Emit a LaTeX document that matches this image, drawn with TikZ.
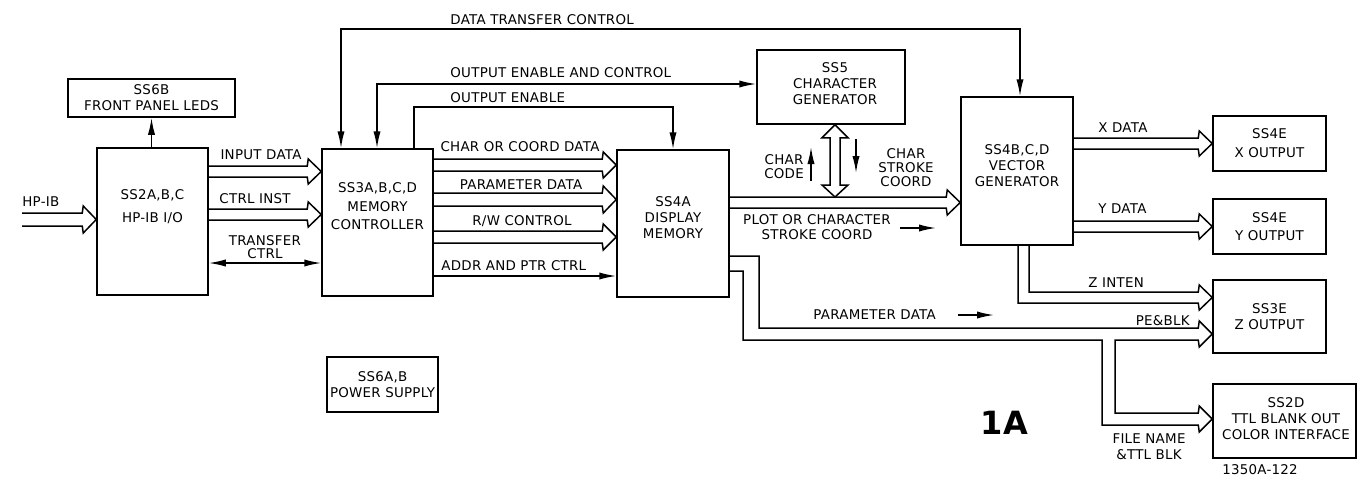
\documentclass[tikz,border=0pt]{standalone}
\usepackage{fontspec}
\setmainfont{DejaVu Sans}[LetterSpace=2]
\usetikzlibrary{arrows.meta,positioning,calc}

% hollow bus head: target anchor, upper y, lower y
\newcommand{\busto}[3]{-- ($(#1 |- 0,#2)+(-14,0)$) -- ++(1,-7) -- ($(#1 |- 0,#2)!.5!(#1 |- 0,#3)$) -- ($(#1 |- 0,#3)+(-13,7)$) -- ++(-1,-7)}
\newcommand{\hbus}[4]{\draw[sig] (#1 |- 0,#3) \busto{#2}{#3}{#4} -- (#1 |- 0,#4);}

\begin{document}
\begin{tikzpicture}[x=0.5pt, y=-0.5pt,
  txt/.style={align=center, inner sep=0pt, font=\fontsize{6.7}{8}\selectfont},
  box/.style={draw, line width=0.75pt, txt},
  sig/.style={line width=0.75pt},
  arr/.style={sig, -{Latex[length=8.5pt,width=3.6pt]}},
  dblarr/.style={sig, {Latex[length=8.5pt,width=3.6pt]}-{Latex[length=8.5pt,width=3.6pt]}}
]
\useasboundingbox (0,0) rectangle (1359,478);

% blocks
\node[box, minimum width=83.5pt, minimum height=19pt] (ss6b) at (151.5,98) {SS6B\\FRONT PANEL LEDS};
\node[box, minimum width=55.5pt, minimum height=73.5pt] (ss2) at (152.5,221.5) {};
\node[txt] (ss2t) at (152.5,206.5) {SS2A,B,C\\[3.5pt]HP-IB I/O};
\node[box, minimum width=55.5pt, minimum height=73.5pt] (ss3) at (377.5,222.5) {};
\node[txt] (ss3t) at (377.5,206.5) {SS3A,B,C,D\\[1.2pt]MEMORY\\[1.2pt]CONTROLLER};
\node[box, minimum width=55.5pt, minimum height=27.5pt] (ss6a) at (382.5,384.5) {SS6A,B\\POWER SUPPLY};
\node[box, minimum width=74pt, minimum height=37pt] (ss5) at (831,87) {};
\node[txt] (ss5t) at (835,83.5) {SS5\\CHARACTER\\GENERATOR};
\node[box, minimum width=56pt, minimum height=73.5pt] (ss4a) at (673,223.5) {};
\node[txt] (ss4at) at (673,218) {SS4A\\DISPLAY\\MEMORY};
\node[box, minimum width=56pt, minimum height=74pt] (ss4b) at (1017,171) {};
\node[txt] (ss4bt) at (1017,166) {SS4B,C,D\\VECTOR\\GENERATOR};
\node[box, minimum width=56.5pt, minimum height=27.5pt] (ss4ex) at (1269.5,143.5) {SS4E\\[1.5pt]X OUTPUT};
\node[box, minimum width=56.5pt, minimum height=27.5pt] (ss4ey) at (1269.5,226.5) {SS4E\\[1pt]Y OUTPUT};
\node[box, minimum width=56.5pt, minimum height=36.5pt] (ss3e) at (1269.5,316.5) {SS3E\\Z OUTPUT};
\node[box, minimum width=71.5pt, minimum height=37pt] (ss2d) at (1284.5,421) {};
\node[txt] (ss2dt) at (1286,418.5) {SS2D\\TTL BLANK OUT\\COLOR INTERFACE};

% HP-IB side
\coordinate (hpib) at (22,0);
\hbus{hpib}{ss2.west}{213}{226}
\draw[arr] (ss6b.south |- ss2.north) -- (ss6b.south);
\hbus{ss2.east}{ss3.west}{166}{177}
\hbus{ss2.east}{ss3.west}{209}{220}
\draw[dblarr] (ss2.east |- 0,263) -- (ss3.west |- 0,263);

% memory controller to display memory
\hbus{ss3.east}{ss4a.west}{159}{171}
\hbus{ss3.east}{ss4a.west}{193}{206}
\hbus{ss3.east}{ss4a.west}{231}{243}
\draw[arr] (ss3.east |- 0,276) -- (ss4a.west |- 0,276);

% control lines over the top
\draw[dblarr] (ss3.north -| 341,0) |- (700,29) -| (ss4b.north -| 1020,0);
\draw[dblarr] (ss3.north -| 377,0) |- (ss5.west |- 0,84);
\draw[arr] (ss3.north -| 414,0) -- (414,107) -| (ss4a.north);

% display memory to vector generator
\hbus{ss4a.east}{ss4b.west}{197}{208}
\coordinate (cgb) at (835,197);
\draw[sig] (ss5.south -| cgb) -- ++(13,13) -- ++(-8,0) -- ($(cgb)+(5,-12)$) -- ($(cgb)+(13,-12)$) -- (cgb)
  -- ($(cgb)+(-13,-12)$) -- ++(8,0) -- ($(ss5.south -| cgb)+(-5,13)$) -- ++(-8,0) -- cycle;
\draw[arr] (811,181) -- (811,147);
\draw[arr] (856,139) -- (856,173);
\draw[arr] (900,228) -- (936,228);

% outputs
\hbus{ss4b.east}{ss4ex.west}{138}{149}
\hbus{ss4b.east}{ss4ey.west}{221}{232}
\draw[sig] (ss4b.south -| 1029,0) -- (1029,292) \busto{ss3e.west}{292}{303} -| (ss4b.south -| 1018,0);
\draw[sig] (ss4a.east |- 0,256) -| (759,328) \busto{ss3e.west}{328}{340} -- (1115,340) -- (1115,413)
  \busto{ss2d.west}{413}{425} -| (1102,340) -| (743,271) -- (ss4a.east |- 0,271);
\draw[arr] (958,315) -- (994,315);

% labels
\node[txt, anchor=west] (hpibl) at (22,202) {HP-IB};
\node[txt] (indl) at (261,155) {INPUT DATA};
\node[txt] (cil) at (255,199) {CTRL INST};
\node[txt] (tcl) at (265,247.5) {TRANSFER\\[-1.5pt]CTRL};
\node[txt, anchor=west] (dtcl) at (450,20) {DATA TRANSFER CONTROL};
\node[txt, anchor=west] (oecl) at (450,73) {OUTPUT ENABLE AND CONTROL};
\node[txt, anchor=west] (oel) at (450,98) {OUTPUT ENABLE};
\node[txt] (ccdl) at (520,147) {CHAR OR COORD DATA};
\node[txt] (pdl) at (521,185) {PARAMETER DATA};
\node[txt] (rwl) at (522,221) {R/W CONTROL};
\node[txt, anchor=west] (apl) at (441,266) {ADDR AND PTR CTRL};
\node[txt] (ccl) at (784,167) {CHAR\\[-1pt]CODE};
\node[txt, anchor=west] (cscl) at (878,168) {CHAR\\[-1pt]STROKE\\[-1pt]COORD};
\node[txt] (pcl) at (817,227.5) {PLOT OR CHARACTER\\[-0.5pt]STROKE COORD};
\node[txt, anchor=west] (pd2l) at (813,315) {PARAMETER DATA};
\node[txt, anchor=west] (xdl) at (1098,128) {X DATA};
\node[txt, anchor=west] (ydl) at (1098,209) {Y DATA};
\node[txt, anchor=west] (zil) at (1088,283) {Z INTEN};
\node[txt, anchor=east] (pbl) at (1190,321) {PE\&BLK};
\node[txt] (fnl) at (1149,447) {FILE NAME\\\&TTL BLK};
\node[txt] (idl) at (1260,470) {1350A-122};
\node[font=\fontsize{16}{18}\selectfont\bfseries, inner sep=0pt] (figl) at (1004,423) {1A};
\end{tikzpicture}
\end{document}
